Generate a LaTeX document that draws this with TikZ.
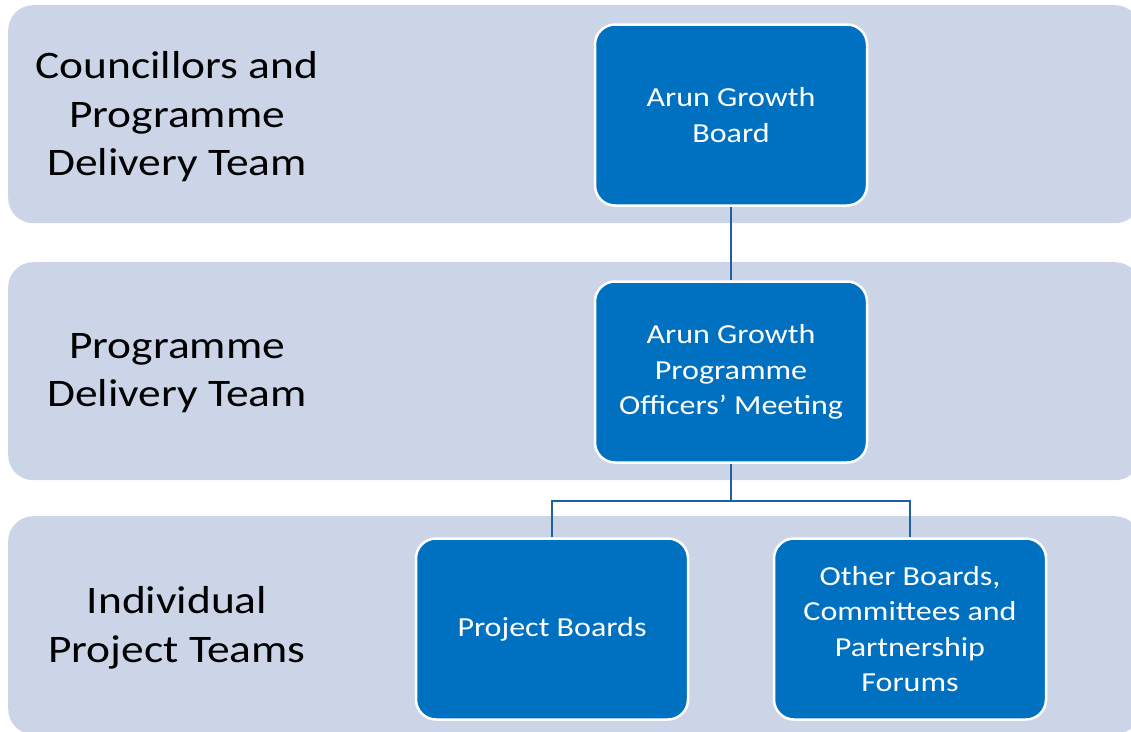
\documentclass[tikz,border=0pt]{standalone}
\usepackage{fontspec}
\setmainfont[FakeStretch=1.165]{Carlito}
\usepackage{xcolor}
\usetikzlibrary{positioning}
\definecolor{bandecol}{HTML}{CCD5E8}
\definecolor{boitecol}{HTML}{0070C0}
\definecolor{traitcol}{HTML}{1F60A3}

\begin{document}
\begin{tikzpicture} [
  x = 1pt, y = 1pt,
  bande/.style = {rectangle, rounded corners = 25pt, fill = bandecol, minimum width = 1132pt, minimum height = 218pt, inner sep = 0pt, anchor = north west},
  titre/.style = {align = center, text = black, font = \fontsize{39}{48.5}\selectfont},
  boite/.style = {rectangle, rounded corners = 20pt, fill = boitecol, draw = white, line width = 2.5pt, minimum width = 272pt, minimum height = 181pt, align = center, text = white, font = \fontsize{27.5}{35.5}\selectfont},
  line/.style = {draw, traitcol, line width = 2.5pt},
  node distance = 257pt,
]

\useasboundingbox (0,0) rectangle (1131,-731);

 \node [bande] (b1) at (8,-5) {};
 \node [bande] (b2) at (8,-262) {};
 \node [bande] (b3) at (8,-516) {};

 \node [titre] (t1) at (177,-117) {Councillors and\\Programme\\Delivery Team};
 \node [titre] (t2) at (177,-373) {Programme\\Delivery Team};
 \node [titre] (t3) at (177,-628) {Individual\\Project Teams};

 \node [boite] (agb) at (731,-115) {Arun Growth\\Board};
 \node [boite, below of = agb] (agp) {Arun Growth\\Programme\\Officers’ Meeting};

 \node [boite, below of = agp, xshift = -179pt] (pb) {Project Boards};
 \node [boite, below of = agp, xshift = +179pt] (ob) {Other Boards,\\Committees and\\Partnership\\Forums};

 \coordinate [below = 37pt of agp.south] (jonc);

 \begin{scope}[every path/.style=line]
\path (agb) -- (agp) ;
\path (agp) -- (jonc) ;
\path (jonc) -| (pb) ;
\path (jonc) -| (ob) ;
\end{scope}

\end{tikzpicture}
\end{document}
